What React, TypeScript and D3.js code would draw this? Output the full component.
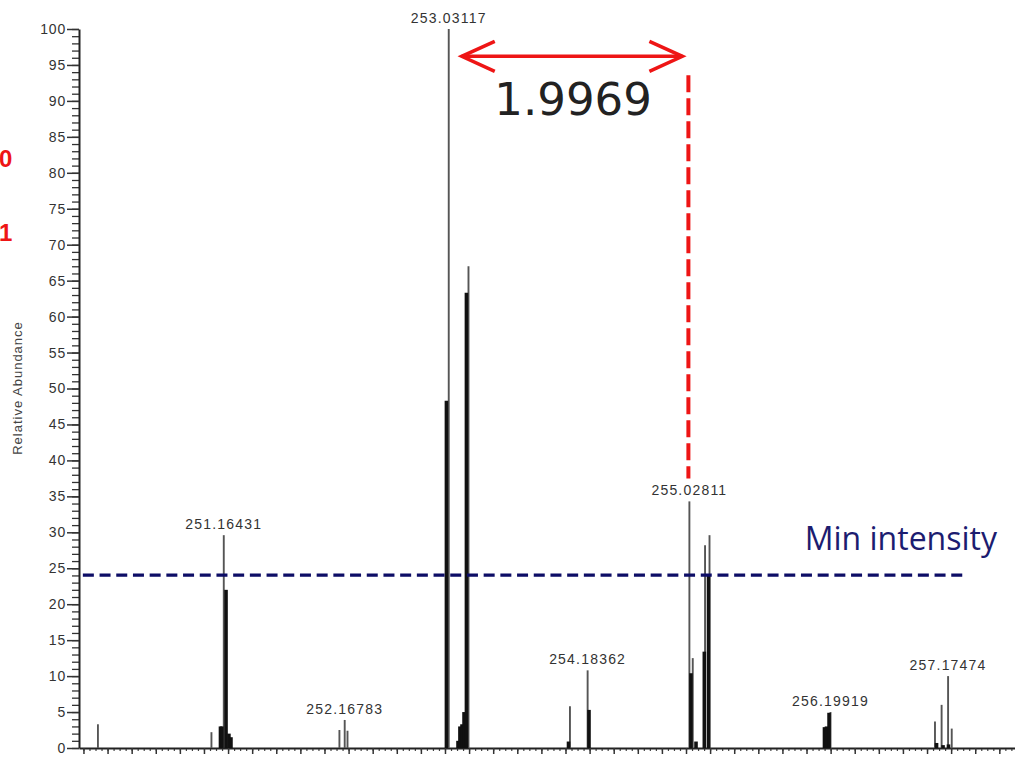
import { useEffect, useRef } from 'react';
import * as d3 from 'd3';

// labelled centroid peaks (m/z, relative abundance)
const labeledMz = [251.16431, 252.16783, 253.03117, 254.18362, 255.02811, 256.19919, 257.17474];
const labeledInt = [29.6, 3.9, 100, 10.8, 34.3, 5.0, 10.0];

// other thin centroid lines
const thinMz = [250.12, 251.062, 252.124, 252.191, 253.195, 254.037, 255.056, 255.158, 255.195, 257.066, 257.121, 257.205];
const thinInt = [3.3, 2.2, 2.5, 2.4, 67.0, 5.8, 12.5, 28.2, 29.6, 3.7, 6.0, 2.7];

// heavy (profile) lines
const thickMz = [
  251.137, 251.149, 251.183, 251.207, 251.224, 253.012, 253.108, 253.124, 253.141, 253.158, 253.178, 254.025, 254.195,
  255.041, 255.083, 255.152, 255.187, 256.149, 256.166, 256.187, 257.079, 257.133, 257.178,
];
const thickInt = [
  3.0, 3.0, 22.0, 2.0, 1.5, 48.3, 1.0, 3.0, 3.3, 5.0, 63.3, 0.9, 5.3, 10.4, 0.9, 13.4, 24.0, 2.9, 3.0, 4.9, 0.7, 0.4, 0.5,
];

const yTicks = d3.range(0, 101, 5);
const minIntensity = 24.05;
const yLabel = 'Relative Abundance';

const App = () => {
  const svgRef = useRef<SVGSVGElement>(null!);
  const width = 1015;
  const height = 760;

  useEffect(() => {
    const svg = d3.select(svgRef.current);
    svg.selectAll('*').remove();

    const xScale = d3.scaleLinear().domain([249.963, 257.73]).range([79, 1015]);
    const yScale = d3.scaleLinear().domain([0, 100]).range([748, 29]);
    const tickFont = '"Liberation Sans", Arial, sans-serif';

    // y axis minor + major
    svg
      .append('g')
      .attr('transform', 'translate(79,0)')
      .call(d3.axisLeft(yScale).tickValues(d3.range(0, 101)).tickSize(7).tickSizeOuter(0).tickFormat(() => ''))
      .call(g => g.selectAll('line').attr('stroke', '#333').attr('stroke-width', 1.3))
      .call(g => g.select('.domain').remove());
    const yAxis = svg
      .append('g')
      .attr('transform', 'translate(79,0)')
      .call(d3.axisLeft(yScale).tickValues(yTicks).tickSize(12).tickSizeOuter(0).tickPadding(1));
    yAxis.select('.domain').attr('stroke', '#222').attr('stroke-width', 2);
    yAxis.selectAll('line').attr('stroke', '#333').attr('stroke-width', 1.5);
    yAxis
      .selectAll('text')
      .attr('font-family', tickFont)
      .attr('font-size', 14)
      .attr('letter-spacing', 0.8)
      .attr('fill', '#333');

    // x axis
    const minor = d3.range(0, 156).map(i => +(250 + i * 0.05).toFixed(2)).filter(v => v <= 257.73);
    const major = d3.range(0, 39).map(i => +(250 + i * 0.2).toFixed(1));
    svg
      .append('g')
      .attr('transform', 'translate(0,748)')
      .call(d3.axisBottom(xScale).tickValues(minor).tickSize(3).tickSizeOuter(0).tickFormat(() => ''))
      .call(g => g.selectAll('line').attr('stroke', '#444').attr('stroke-width', 1.2))
      .call(g => g.select('.domain').remove());
    const xAxis = svg
      .append('g')
      .attr('transform', 'translate(0,748)')
      .call(d3.axisBottom(xScale).tickValues(major).tickSize(6).tickSizeOuter(0).tickFormat(() => ''));
    xAxis.select('.domain').attr('stroke', '#222').attr('stroke-width', 2);
    xAxis.selectAll('line').attr('stroke', '#333').attr('stroke-width', 1.5);

    // y label
    svg
      .append('text')
      .attr('transform', 'translate(22,388) rotate(-90)')
      .attr('text-anchor', 'middle')
      .attr('font-family', tickFont)
      .attr('font-size', 13)
      .attr('letter-spacing', 1)
      .attr('fill', '#444')
      .text(yLabel);

    // peaks
    const thin = thinMz.map((m, i) => ({ m, v: thinInt[i] })).concat(labeledMz.map((m, i) => ({ m, v: labeledInt[i] })));
    svg
      .append('g')
      .selectAll('line')
      .data(thin)
      .enter()
      .append('line')
      .attr('x1', d => xScale(d.m))
      .attr('x2', d => xScale(d.m))
      .attr('y1', yScale(0))
      .attr('y2', d => yScale(d.v))
      .attr('stroke', '#555')
      .attr('stroke-width', 1.9);

    const thick = thickMz.map((m, i) => ({ m, v: thickInt[i] }));
    svg
      .append('g')
      .selectAll('line')
      .data(thick)
      .enter()
      .append('line')
      .attr('x1', d => xScale(d.m))
      .attr('x2', d => xScale(d.m))
      .attr('y1', yScale(0))
      .attr('y2', d => yScale(d.v))
      .attr('stroke', '#111')
      .attr('stroke-width', 3.6);

    // peak labels
    svg
      .append('g')
      .selectAll('text')
      .data(labeledMz)
      .enter()
      .append('text')
      .attr('x', d => xScale(d))
      .attr('y', (_, i) => yScale(labeledInt[i]) - 6)
      .attr('text-anchor', 'middle')
      .attr('font-family', tickFont)
      .attr('font-size', 14)
      .attr('letter-spacing', 1.2)
      .attr('fill', '#333')
      .text(d => d.toFixed(5));

    // min intensity threshold
    const yMin = yScale(minIntensity);
    svg
      .append('line')
      .attr('x1', xScale(249.995))
      .attr('x2', xScale(257.33))
      .attr('y1', yMin)
      .attr('y2', yMin)
      .attr('stroke', '#0d0d66')
      .attr('stroke-width', 3.2)
      .attr('stroke-dasharray', '11 5.7');
    svg
      .append('text')
      .attr('x', 997)
      .attr('y', yMin - 25)
      .attr('text-anchor', 'end')
      .attr('font-family', '"Open Sans", sans-serif')
      .attr('font-size', 32)
      .attr('fill', '#1c1c70')
      .text('Min intensity');

    // mass difference annotation
    const red = '#ee1515';
    const xa = xScale(labeledMz[2]) + 13;
    const xb = xScale(labeledMz[4]) - 7;
    const ya = yScale(96.2);
    const arrow = svg.append('g').attr('fill', 'none').attr('stroke', red).attr('stroke-width', 3.5);
    arrow.append('line').attr('x1', xa).attr('x2', xb).attr('y1', ya).attr('y2', ya);
    arrow.append('path').attr('d', `M${xa + 33},${ya - 15}L${xa},${ya}L${xa + 33},${ya + 15}`);
    arrow.append('path').attr('d', `M${xb - 33},${ya - 15}L${xb},${ya}L${xb - 33},${ya + 15}`);
    svg
      .append('text')
      .attr('x', (xa + xb) / 2 + 1)
      .attr('y', ya + 59)
      .attr('text-anchor', 'middle')
      .attr('font-family', '"DejaVu Sans", sans-serif')
      .attr('font-size', 45)
      .attr('fill', '#222')
      .text((labeledMz[4] - labeledMz[2]).toFixed(4));
    const xd = xScale(labeledMz[4]) - 1;
    svg
      .append('line')
      .attr('x1', xd)
      .attr('x2', xd)
      .attr('y1', ya + 19)
      .attr('y2', yScale(labeledInt[4]) - 23)
      .attr('stroke', red)
      .attr('stroke-width', 4)
      .attr('stroke-dasharray', '17 6');

    // cropped red labels at left
    svg
      .append('g')
      .selectAll('text')
      .data(['0', '1'])
      .enter()
      .append('text')
      .attr('x', -1)
      .attr('y', (_, i) => 167 + i * 74)
      .attr('font-family', '"Liberation Sans", Arial, sans-serif')
      .attr('font-weight', 'bold')
      .attr('font-size', 24)
      .attr('fill', red)
      .text(d => d);
  }, []);

  return (
    <svg
      ref={svgRef}
      width={width}
      height={height}
      style={{ position: 'absolute', left: 0, top: 0, background: '#fff' }}
    ></svg>
  );
};

export default App;
